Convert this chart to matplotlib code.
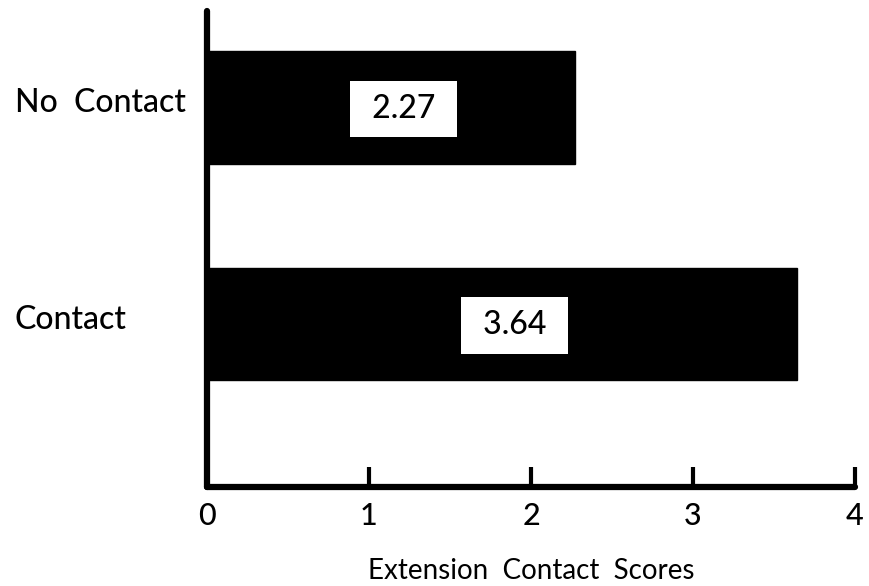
import matplotlib
matplotlib.use("Agg")
import matplotlib.pyplot as plt
from matplotlib.transforms import blended_transform_factory

categories = ["Contact", "No  Contact"]
values = [3.64, 2.27]
value_labels = ["3.64", "2.27"]
xticks = [0, 1, 2, 3, 4]
xtick_labels = ["0", "1", "2", "3", "4"]
xlabel = "Extension  Contact  Scores"

plt.rcParams['font.family'] = ['Lato', 'DejaVu Sans']

W, H = 869, 586
fig = plt.figure(figsize=(W / 100, H / 100), dpi=100)
left, right, top, bottom = 207, 855, 11, 487
ax = fig.add_axes([left / W, 1 - bottom / H, (right - left) / W, (bottom - top) / H])

pos = list(range(len(categories)))
ax.barh(pos, values, height=0.52, color="black", edgecolor="black", linewidth=1)
ax.set_xlim(0, 4)
ax.set_ylim(-0.753, 1.446)

for p, v, lab in zip(pos, values, value_labels):
    ax.annotate(" " + lab + " ", xy=(v / 2, p), xytext=(9, -1), textcoords="offset points",
                ha="center", va="center", fontsize=23, fontweight="medium", color="black",
                bbox=dict(boxstyle="square,pad=0.42", facecolor="white", edgecolor="none"))

trans = blended_transform_factory(fig.transFigure, ax.transData)
for p, c in zip(pos, categories):
    ax.text(15 / W, p + 0.02, c, transform=trans, ha="left", va="center",
            fontsize=23, fontweight="medium")

for s in ["top", "right"]:
    ax.spines[s].set_visible(False)
for s in ["left", "bottom"]:
    ax.spines[s].set_linewidth(4.5)
    ax.spines[s].set_capstyle("round")

ax.set_yticks([])
ax.set_xticks(xticks)
ax.set_xticklabels(xtick_labels, fontsize=22, fontweight="medium")
ax.tick_params(axis="x", direction="in", length=14.5, width=3, pad=11)
ax.set_xlabel(xlabel, fontsize=20, labelpad=20)

fig.savefig("out.png", dpi=100)
